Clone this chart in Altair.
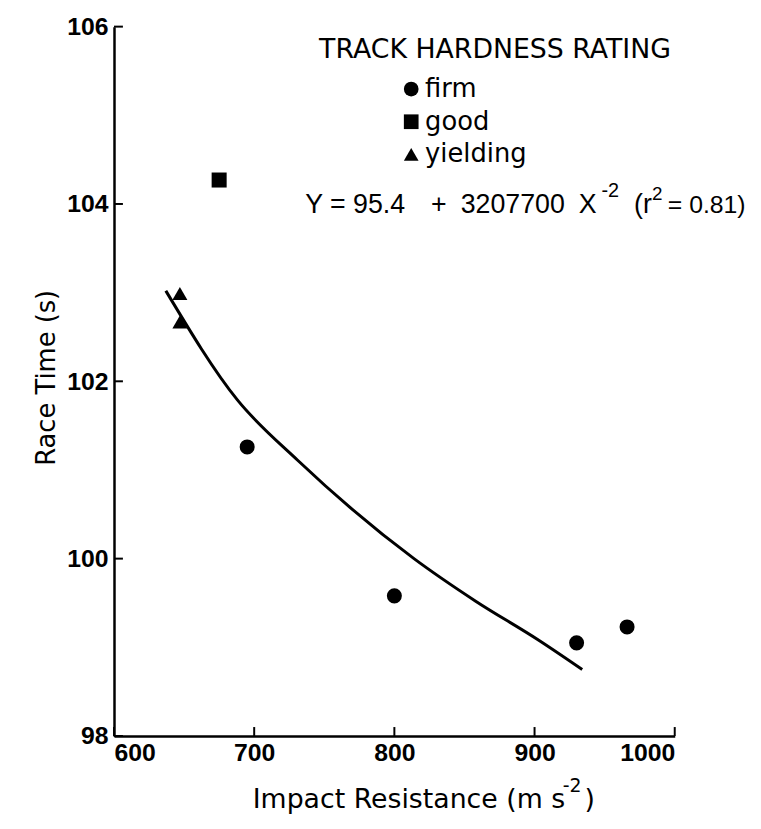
import altair as alt
import pandas as pd

# ---- data ----
impact = [695, 800, 930, 966, 675, 647, 647]
race_time = [101.26, 99.58, 99.05, 99.23, 104.27, 102.99, 102.67]
rating = ["firm", "firm", "firm", "firm", "good", "yielding", "yielding"]

curve_x = [637, 688, 731, 814, 858, 903, 934]
curve_y = [103.02, 101.79, 101.11, 100.0, 99.52, 99.08, 98.75]

x_ticks = [600, 700, 800, 900, 1000]
y_ticks = [98, 100, 102, 104, 106]

categories = ["firm", "good", "yielding"]
shapes = ["circle", "square", "triangle-up"]

legend_title = "TRACK HARDNESS RATING"
x_title_main = "Impact Resistance (m s"
x_title_sup = "-2"
x_title_end = ")"
y_title = "Race Time (s)"
eq_parts = ["Y = 95.4", "+", "3207700", "X", "-2", "(r", "2", "= 0.81)"]

# ---- layout ----
W, H = 566, 716
FONT = "Liberation Sans"
TFONT = "DejaVu Sans"
xs = alt.Scale(domain=[600, 1000], nice=False, zero=False)
ys = alt.Scale(domain=[98, 106], nice=False, zero=False)

pts_df = pd.DataFrame({"impact": impact, "time": race_time, "rating": rating})

points = alt.Chart(pts_df).mark_point(filled=True, opacity=1, color="black", size=230).encode(
    x=alt.X("impact:Q", scale=xs,
            axis=alt.Axis(values=x_ticks, format="d", ticks=False, grid=False,
                          domainColor="black", domainWidth=2.5, labelFont=FONT,
                          labelFontSize=25, labelFontWeight="bold", labelColor="black",
                          labelPadding=5, title=None)),
    y=alt.Y("time:Q", scale=ys,
            axis=alt.Axis(values=y_ticks, format="d", ticks=False, grid=False,
                          domainColor="black", domainWidth=2.5, labelFont=FONT,
                          labelFontSize=25, labelFontWeight="bold", labelColor="black",
                          labelPadding=6,
                          title=y_title, titleFont=TFONT, titleFontSize=26,
                          titleFontWeight="normal", titleColor="black",
                          titleX=-60, titleY=H / 2 - 4, titleAngle=270,
                          titleBaseline="alphabetic", titleAlign="center")),
    shape=alt.Shape("rating:N", scale=alt.Scale(domain=categories, range=shapes),
                    legend=alt.Legend(title=None, orient="none", legendX=287, legendY=50,
                                      labelFont=TFONT, labelFontSize=26, labelColor="black",
                                      symbolFillColor="black", symbolStrokeColor="black",
                                      symbolSize=220, symbolStrokeWidth=0, rowPadding=7,
                                      labelOffset=1, padding=0)),
)

curve = alt.Chart(pd.DataFrame({"impact": curve_x, "time": curve_y})).mark_line(
    color="black", strokeWidth=3, interpolate="monotone"
).encode(x=alt.X("impact:Q", scale=xs), y=alt.Y("time:Q", scale=ys))

xt = alt.Chart(pd.DataFrame({"impact": x_ticks})).mark_rule(color="black", strokeWidth=2).encode(
    x=alt.X("impact:Q", scale=xs), y=alt.value(H), y2=alt.value(H - 9))
yt = alt.Chart(pd.DataFrame({"time": y_ticks})).mark_rule(color="black", strokeWidth=2).encode(
    y=alt.Y("time:Q", scale=ys), x=alt.value(0), x2=alt.value(9))


def txt(s, x, y, size, font=TFONT):
    return alt.Chart(pd.DataFrame({"t": [s]})).mark_text(
        align="left", baseline="alphabetic", font=font, fontSize=size, color="black"
    ).encode(text="t:N", x=alt.value(x), y=alt.value(y))


texts = [
    txt(legend_title, 207, 32, 27),
    txt(eq_parts[0], 193, 188, 27, FONT),
    txt(eq_parts[1], 320, 188, 27, FONT),
    txt(eq_parts[2], 350, 188, 27, FONT),
    txt(eq_parts[3], 469, 188, 27, FONT),
    txt(eq_parts[4], 492, 172, 20, FONT),
    txt(eq_parts[5], 525, 188, 27, FONT),
    txt(eq_parts[6], 543, 175, 19, FONT),
    txt(eq_parts[7], 559, 188, 25, FONT),
    txt(x_title_main, 140, 789, 27),
    txt(x_title_sup, 453, 773, 19),
    txt(x_title_end, 475, 789, 27),
]

chart = alt.layer(curve, points, xt, yt, *texts).properties(
    width=W, height=H,
    padding={"left": 107, "top": 15, "right": 79, "bottom": 79},
    autosize=alt.AutoSizeParams(type="none"),
).configure_view(stroke=None)

chart.save("out.html", embed_options={"renderer": "svg", "actions": False})
